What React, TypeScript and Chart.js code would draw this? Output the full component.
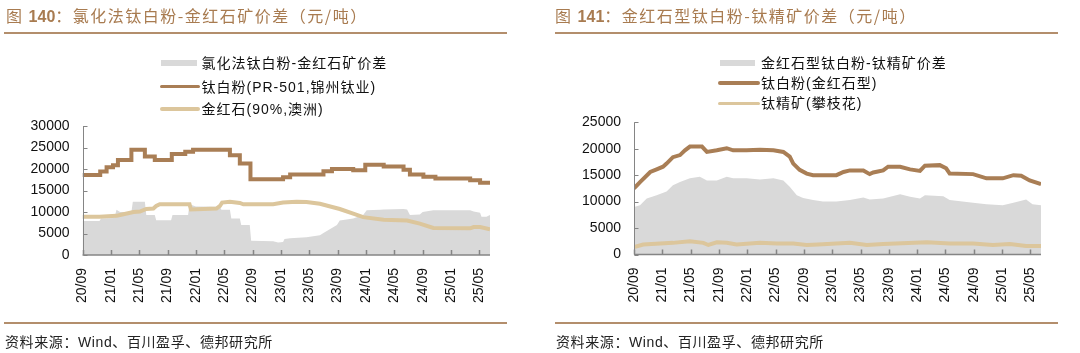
import React, { useEffect, useRef } from "react";
import { Chart, registerables } from "chart.js";

Chart.register(...registerables);

// x unit: months since 2020/09
const xTickLabels = ["20/09", "21/01", "21/05", "21/09", "22/01", "22/05", "22/09", "23/01", "23/05", "23/09", "24/01", "24/05", "24/09", "25/01", "25/05"];
const monthsPerTick = 4;
const xMax = 57.5;

// ---- Figure 140 ----
const leftTitle = "氯化法钛白粉-金红石矿价差（元/吨）";
const leftSpreadLabel = "氯化法钛白粉-金红石矿价差";
const leftTitaniumLabel = "钛白粉(PR-501,锦州钛业)";
const leftRutileLabel = "金红石(90%,澳洲)";

const leftTitaniumMonths = [0, 2.5, 3.4, 4.3, 5.0, 6.9, 8.8, 10.2, 12.6, 14.5, 15.6, 20.8, 22.2, 23.7, 28.3, 29.3, 34.0, 35.2, 38.2, 39.9, 42.5, 45.3, 46.2, 48.1, 49.8, 54.7, 56.1, 57.5];
const leftTitaniumValues = [18600, 19400, 20400, 20900, 22100, 24500, 22900, 22100, 23500, 24000, 24500, 23200, 21300, 17600, 18100, 18700, 19500, 20000, 19700, 21000, 20600, 19800, 18700, 18200, 17800, 17400, 16800, 16800];

const leftSpreadMonths = [0, 2.4, 2.6, 4.5, 4.8, 5.3, 6.9, 7.1, 8.8, 9.0, 10.2, 10.4, 12.5, 12.7, 14.9, 15.1, 16.0, 19.4, 19.6, 20.8, 21.0, 22.2, 22.4, 23.6, 23.8, 26.9, 27.6, 28.3, 28.5, 29.3, 31.6, 33.5, 34.0, 35.9, 36.3, 38.2, 39.6, 40.1, 42.0, 42.5, 45.3, 45.8, 46.2, 47.6, 48.0, 49.5, 54.7, 55.2, 56.1, 56.3, 57.0, 57.5];
const leftSpreadValues = [7900, 7900, 8500, 8600, 10500, 10000, 10000, 12400, 12400, 9300, 9300, 8100, 8100, 9300, 9300, 11800, 11300, 11200, 10500, 10500, 8500, 8500, 7000, 7000, 3300, 3200, 2900, 3000, 3700, 3900, 4100, 4600, 5100, 7000, 8000, 8500, 9300, 10400, 10500, 10600, 10700, 10600, 9300, 9400, 10000, 10400, 10400, 10100, 9800, 8900, 8900, 9300];

const leftRutileMonths = [0, 2.4, 4.8, 5.3, 7.2, 8.1, 9.0, 10.0, 10.4, 10.9, 15.1, 15.3, 18.9, 19.4, 19.7, 20.8, 22.2, 22.7, 26.9, 28.3, 30.2, 31.6, 33.5, 36.3, 38.2, 39.6, 42.5, 45.8, 47.6, 49.5, 54.7, 55.2, 56.1, 57.5];
const leftRutileValues = [8900, 8900, 9100, 9300, 10000, 10100, 10700, 10800, 11400, 11800, 11800, 10600, 10800, 11400, 12200, 12400, 12100, 11800, 11800, 12200, 12400, 12300, 11900, 10700, 9600, 8800, 8200, 8000, 7300, 6300, 6200, 6500, 6500, 6000];

// ---- Figure 141 ----
const rightTitle = "金红石型钛白粉-钛精矿价差（元/吨）";
const rightSpreadLabel = "金红石型钛白粉-钛精矿价差";
const rightTitaniumLabel = "钛白粉(金红石型)";
const rightIlmeniteLabel = "钛精矿(攀枝花)";

const rightTitaniumMonths = [0, 0.85, 2.3, 3.2, 4.1, 4.6, 5.5, 6.5, 7.2, 7.9, 9.6, 10.3, 11.7, 13.1, 14.0, 15.9, 17.8, 19.7, 21.1, 22.0, 22.5, 23.4, 24.4, 25.3, 28.6, 29.6, 30.5, 32.4, 33.3, 33.8, 35.2, 35.9, 37.6, 39.0, 40.4, 41.1, 43.2, 44.1, 44.6, 47.9, 49.8, 52.1, 53.6, 54.7, 55.9, 57.5];
const rightTitaniumValues = [12500, 13700, 15600, 16100, 16600, 17200, 18400, 18800, 19700, 20400, 20400, 19400, 19700, 20100, 19700, 19700, 19800, 19700, 19400, 18500, 17200, 16000, 15300, 15000, 15000, 15600, 15900, 15900, 15200, 15500, 15900, 16600, 16600, 16100, 15800, 16800, 16900, 16300, 15300, 15200, 14400, 14400, 15000, 14900, 14000, 13300];

const rightSpreadMonths = [0, 0.85, 1.8, 3.2, 4.6, 5.5, 6.5, 7.9, 9.3, 10.3, 11.7, 13.1, 14.0, 15.9, 17.8, 19.7, 21.1, 22.0, 23.0, 23.9, 25.3, 26.7, 28.6, 30.5, 32.4, 33.3, 35.2, 37.6, 39.0, 40.4, 41.1, 43.7, 44.6, 47.9, 49.8, 52.1, 53.6, 55.4, 56.3, 57.5];
const rightSpreadValues = [9000, 9300, 10600, 11200, 11900, 13100, 13700, 14400, 14700, 14000, 14000, 14700, 14400, 14400, 14200, 14400, 14000, 12800, 11200, 10700, 10300, 10000, 10000, 10300, 10800, 10400, 10600, 11400, 10900, 10600, 11200, 11000, 10300, 9800, 9500, 9300, 9800, 10400, 9500, 9300];

const rightIlmeniteMonths = [0, 1.3, 3.7, 5.5, 7.9, 9.8, 10.5, 11.7, 13.1, 14.5, 17.8, 20.2, 22.5, 24.4, 26.0, 30.5, 32.9, 35.2, 41.4, 44.6, 47.9, 50.7, 53.1, 55.4, 57.5];
const rightIlmeniteValues = [1400, 1900, 2100, 2200, 2500, 2200, 1800, 2300, 2200, 1900, 2200, 2100, 2100, 1800, 1900, 2200, 1800, 2000, 2300, 2100, 2100, 1800, 2000, 1600, 1600];

const sourceText = "资料来源：Wind、百川盈孚、德邦研究所";

const BROWN = "#a97e55";
const LIGHT = "#dcc69c";
const GRAY = "#d9d9d9";
const AXIS = "#858585";
const TITLE_COLOR = "#a87b50";
const RULE_COLOR = "#b38e6c";
const LATIN = '"Liberation Sans", Arial, "Noto Sans CJK SC", sans-serif';

const toPoints = (xs: number[], ys: number[]) => xs.map((x, i) => ({ x, y: ys[i] }));

const axisPlugin = {
  id: "axisLines",
  afterDatasetsDraw(chart: any) {
    const { ctx, chartArea: a, scales } = chart;
    const xs = scales.x;
    const ys = scales.y;
    ctx.save();
    ctx.strokeStyle = AXIS;
    ctx.lineWidth = 1;
    ctx.beginPath();
    const lx = Math.round(a.left) + 0.5;
    ctx.moveTo(lx, a.top);
    ctx.lineTo(lx, a.bottom);
    ys.ticks.forEach((t: any) => {
      const py = Math.round(ys.getPixelForValue(t.value)) + 0.5;
      ctx.moveTo(lx, py);
      ctx.lineTo(lx + 4, py);
    });
    ctx.stroke();
    ctx.lineWidth = 1.5;
    ctx.beginPath();
    ctx.moveTo(a.left, a.bottom);
    ctx.lineTo(a.right, a.bottom);
    xs.ticks.forEach((t: any) => {
      const px = Math.round(xs.getPixelForValue(t.value)) + 0.5;
      ctx.moveTo(px, a.bottom);
      ctx.lineTo(px, a.bottom - 5);
    });
    ctx.stroke();
    ctx.restore();
  },
};

type PanelCfg = {
  canvasLeft: number;
  axisLeft: number;
  axisRight: number;
  top: number;
  bottom: number;
  yMax: number;
  spreadLabel: string;
  mainLabel: string;
  rawLabel: string;
  spread: { x: number; y: number }[];
  main: { x: number; y: number }[];
  raw: { x: number; y: number }[];
  mainStepped: boolean;
};

const W = 540;
const H = 353;
const X_AXIS_H = 50;

function ChartCanvas({ cfg }: { cfg: PanelCfg }) {
  const ref = useRef<HTMLCanvasElement | null>(null);
  useEffect(() => {
    if (!ref.current) return;
    const tickFont = { family: LATIN, size: 14 };
    const chart = new Chart(ref.current, {
      type: "line",
      data: {
        datasets: [
          {
            label: cfg.rawLabel,
            data: cfg.raw,
            borderColor: LIGHT,
            borderWidth: 4,
            pointRadius: 0,
            fill: false,
            tension: 0,
            order: 1,
          },
          {
            label: cfg.mainLabel,
            data: cfg.main,
            borderColor: BROWN,
            borderWidth: 4,
            pointRadius: 0,
            fill: false,
            tension: 0,
            stepped: cfg.mainStepped ? "before" : false,
            order: 2,
          },
          {
            label: cfg.spreadLabel,
            data: cfg.spread,
            borderColor: "rgba(0,0,0,0)",
            borderWidth: 0,
            backgroundColor: GRAY,
            pointRadius: 0,
            fill: "origin",
            tension: 0,
            order: 3,
          },
        ],
      } as any,
      options: {
        responsive: false,
        animation: false,
        events: [],
        layout: {
          padding: {
            left: 0,
            top: cfg.top,
            right: W - cfg.axisRight,
            bottom: H - cfg.bottom - X_AXIS_H,
          },
        },
        plugins: { legend: { display: false }, tooltip: { enabled: false } },
        scales: {
          x: {
            type: "linear",
            min: 0,
            max: xMax,
            grid: { display: false, drawTicks: false },
            border: { display: false },
            ticks: {
              stepSize: monthsPerTick,
              autoSkip: false,
              includeBounds: false,
              minRotation: 90,
              maxRotation: 90,
              padding: 13,
              color: "#111",
              font: tickFont,
              callback: (v: any) => xTickLabels[Math.round(Number(v) / monthsPerTick)] ?? "",
            },
            afterFit: (s: any) => {
              s.height = X_AXIS_H;
            },
          },
          y: {
            type: "linear",
            min: 0,
            max: cfg.yMax,
            grid: { display: false, drawTicks: false },
            border: { display: false },
            ticks: {
              stepSize: 5000,
              padding: 13,
              color: "#111",
              font: tickFont,
              callback: (v: any) => String(v),
            },
            afterFit: (s: any) => {
              s.width = cfg.axisLeft;
            },
          },
        },
      } as any,
      plugins: [axisPlugin],
    });
    return () => chart.destroy();
  }, [cfg]);
  return (
    <canvas
      ref={ref}
      width={W}
      height={H}
      style={{ position: "absolute", left: cfg.canvasLeft, top: 0, width: W, height: H }}
    />
  );
}

const leftCfg: PanelCfg = {
  canvasLeft: 0,
  axisLeft: 82.5,
  axisRight: 490,
  top: 126,
  bottom: 255,
  yMax: 30000,
  spreadLabel: leftSpreadLabel,
  mainLabel: leftTitaniumLabel,
  rawLabel: leftRutileLabel,
  spread: toPoints(leftSpreadMonths, leftSpreadValues),
  main: toPoints(leftTitaniumMonths, leftTitaniumValues),
  raw: toPoints(leftRutileMonths, leftRutileValues),
  mainStepped: true,
};

const rightCfg: PanelCfg = {
  canvasLeft: 540,
  axisLeft: 94,
  axisRight: 501,
  top: 122.3,
  bottom: 254.5,
  yMax: 25000,
  spreadLabel: rightSpreadLabel,
  mainLabel: rightTitaniumLabel,
  rawLabel: rightIlmeniteLabel,
  spread: toPoints(rightSpreadMonths, rightSpreadValues),
  main: toPoints(rightTitaniumMonths, rightTitaniumValues),
  raw: toPoints(rightIlmeniteMonths, rightIlmeniteValues),
  mainStepped: false,
};

function Title({ left, num, text }: { left: number; num: string; text: string }) {
  return (
    <div
      style={{
        position: "absolute",
        left,
        top: 5,
        height: 21,
        lineHeight: "21px",
        whiteSpace: "nowrap",
        color: TITLE_COLOR,
        fontFamily: '"Noto Sans CJK SC", sans-serif',
        fontSize: 16,
      }}
    >
      <span style={{ letterSpacing: 1.5 }}>图 </span>
      <span style={{ fontFamily: LATIN, fontWeight: "bold", fontSize: 16 }}>{num}</span>
      <span style={{ letterSpacing: 1.5 }}>：{text}</span>
    </div>
  );
}

function Rule({ left, width, top, h }: { left: number; width: number; top: number; h: number }) {
  return <div style={{ position: "absolute", left, top, width, height: h, background: RULE_COLOR }} />;
}

function Footer({ left }: { left: number }) {
  return (
    <div
      style={{
        position: "absolute",
        left,
        top: 334,
        height: 16,
        lineHeight: "16px",
        whiteSpace: "nowrap",
        fontFamily: LATIN,
        fontSize: 14,
        letterSpacing: 0.6,
        color: "#222",
      }}
    >
      {sourceText}
    </div>
  );
}

function LegendRow({
  cy,
  swLeft,
  swWidth,
  textLeft,
  kind,
  color,
  label,
}: {
  cy: number;
  swLeft: number;
  swWidth: number;
  textLeft: number;
  kind: "box" | "line";
  color: string;
  label: string;
}) {
  const h = kind === "box" ? 6 : 3.5;
  return (
    <>
      <div
        style={{
          position: "absolute",
          left: swLeft,
          top: cy - h / 2,
          width: swWidth,
          height: h,
          background: color,
          borderRadius: kind === "line" ? 2 : 0,
        }}
      />
      <div
        style={{
          position: "absolute",
          left: textLeft,
          top: cy - 9,
          height: 18,
          lineHeight: "18px",
          whiteSpace: "nowrap",
          fontFamily: LATIN,
          fontSize: 14,
          letterSpacing: 1,
          color: "#111",
        }}
      >
        {label}
      </div>
    </>
  );
}

export default function App() {
  return (
    <div
      style={{
        position: "absolute",
        left: 0,
        top: 0,
        width: 1080,
        height: 353,
        background: "#fff",
        overflow: "hidden",
      }}
    >
      <ChartCanvas cfg={leftCfg} />
      <ChartCanvas cfg={rightCfg} />

      <Title left={6} num="140" text={leftTitle} />
      <Title left={555} num="141" text={rightTitle} />
      <Rule left={4} width={503} top={31.5} h={2} />
      <Rule left={555} width={503} top={31.5} h={2} />
      <Rule left={4} width={503} top={322} h={1.5} />
      <Rule left={555} width={503} top={322} h={1.5} />
      <Footer left={5} />
      <Footer left={556} />

      <LegendRow cy={63.3} swLeft={161} swWidth={36} textLeft={201.5} kind="box" color={GRAY} label={leftSpreadLabel} />
      <LegendRow cy={86.5} swLeft={160} swWidth={40} textLeft={201.5} kind="line" color={BROWN} label={leftTitaniumLabel} />
      <LegendRow cy={109} swLeft={160} swWidth={40} textLeft={201.5} kind="line" color={LIGHT} label={leftRutileLabel} />

      <LegendRow cy={62.8} swLeft={720} swWidth={35} textLeft={761} kind="box" color={GRAY} label={rightSpreadLabel} />
      <LegendRow cy={83} swLeft={718} swWidth={42} textLeft={761} kind="line" color={BROWN} label={rightTitaniumLabel} />
      <LegendRow cy={103.3} swLeft={718} swWidth={42} textLeft={761} kind="line" color={LIGHT} label={rightIlmeniteLabel} />
    </div>
  );
}
